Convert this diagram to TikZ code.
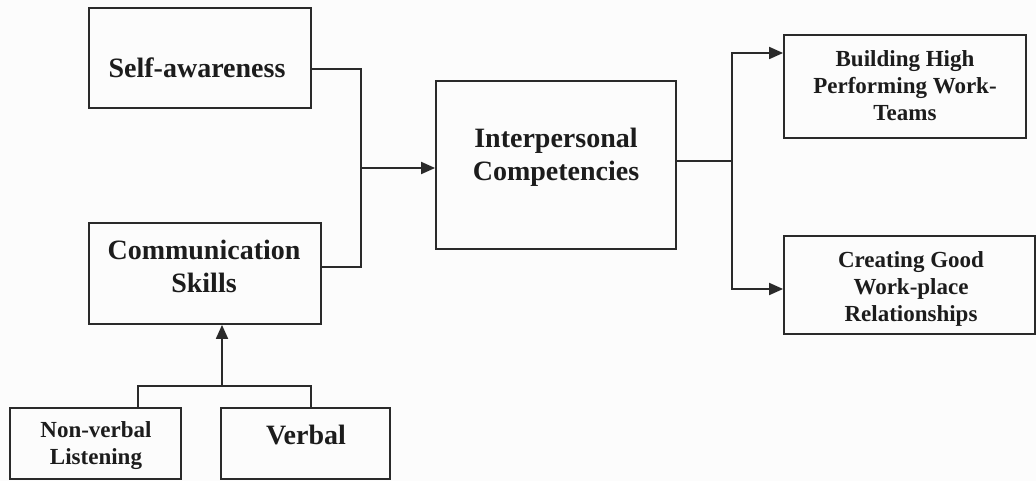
\documentclass[tikz,border=0pt]{standalone}
\usepackage{fontspec}
\setmainfont{Liberation Serif}
\usetikzlibrary{arrows.meta}
\definecolor{ink}{HTML}{2A2A2A}
\definecolor{txt}{HTML}{1C1C1C}
\definecolor{paper}{HTML}{FCFCFC}
\tikzset{
  box/.style={draw=ink, line width=1.8pt, inner sep=0pt, fill=none},
  link/.style={draw=ink, line width=1.8pt},
  arr/.style={link, -{Triangle[length=14pt,width=12pt]}},
  bigtext/.style={text=txt, inner sep=0pt, align=center, font=\fontsize{28}{33}\selectfont\bfseries},
  smalltext/.style={text=txt, inner sep=0pt, align=center, font=\fontsize{23}{27}\selectfont\bfseries}
}
\begin{document}
\begin{tikzpicture}[x=1pt, y=-1pt]
\fill[paper] (0,0) rectangle (1036,481);
\useasboundingbox (0,0) rectangle (1036,481);

% boxes
\node[box, minimum width=222pt, minimum height=100pt] (sa) at (200,58) {};
\node[box, minimum width=232pt, minimum height=101pt] (cs) at (205,273.5) {};
\node[box, minimum width=171pt, minimum height=71pt] (nv) at (95.5,443.5) {};
\node[box, minimum width=169pt, minimum height=71pt] (vb) at (305.5,443.5) {};
\node[box, minimum width=240pt, minimum height=168pt] (ic) at (556,165) {};
\node[box, minimum width=242pt, minimum height=103pt] (bh) at (905,86.5) {};
\node[box, minimum width=251pt, minimum height=98pt] (cg) at (909.5,285) {};

% texts
\node[bigtext] (saT) at (197,67.5) {Self-awareness};
\node[bigtext] (csT) at (204,266.5) {Communication\\Skills};
\node[bigtext] (icT) at (556,157.5) {Interpersonal\\Competencies};
\node[bigtext] (vbT) at (306,434.5) {Verbal};
\node[smalltext] (nvT) at (96,445.5) {Non-verbal\\Listening};
\node[smalltext] (bhT) at (905,85.5) {Building High\\Performing Work-\\Teams};
\node[smalltext] (cgT) at (911,288.5) {Creating Good\\Work-place\\Relationships};

% junctions
\coordinate (jl) at (361,168);
\coordinate (jr) at (732,161);
\coordinate (jb) at (222,386);

% left merge
\draw[link] ([yshift=-11pt]sa.east) -| (jl) |- ([yshift=6.5pt]cs.east);
\draw[arr] (jl) -- (jl -| ic.west);

% right split
\draw[link] (jr -| ic.east) -- (jr);
\draw[arr] (jr) |- ([yshift=33.5pt]bh.west);
\draw[arr] (jr) |- ([yshift=-4pt]cg.west);

% bottom merge
\draw[link] ([xshift=42.5pt]nv.north) |- (jb) -| ([xshift=5.5pt]vb.north);
\draw[arr] (jb) -- (jb |- cs.south);
\end{tikzpicture}
\end{document}
